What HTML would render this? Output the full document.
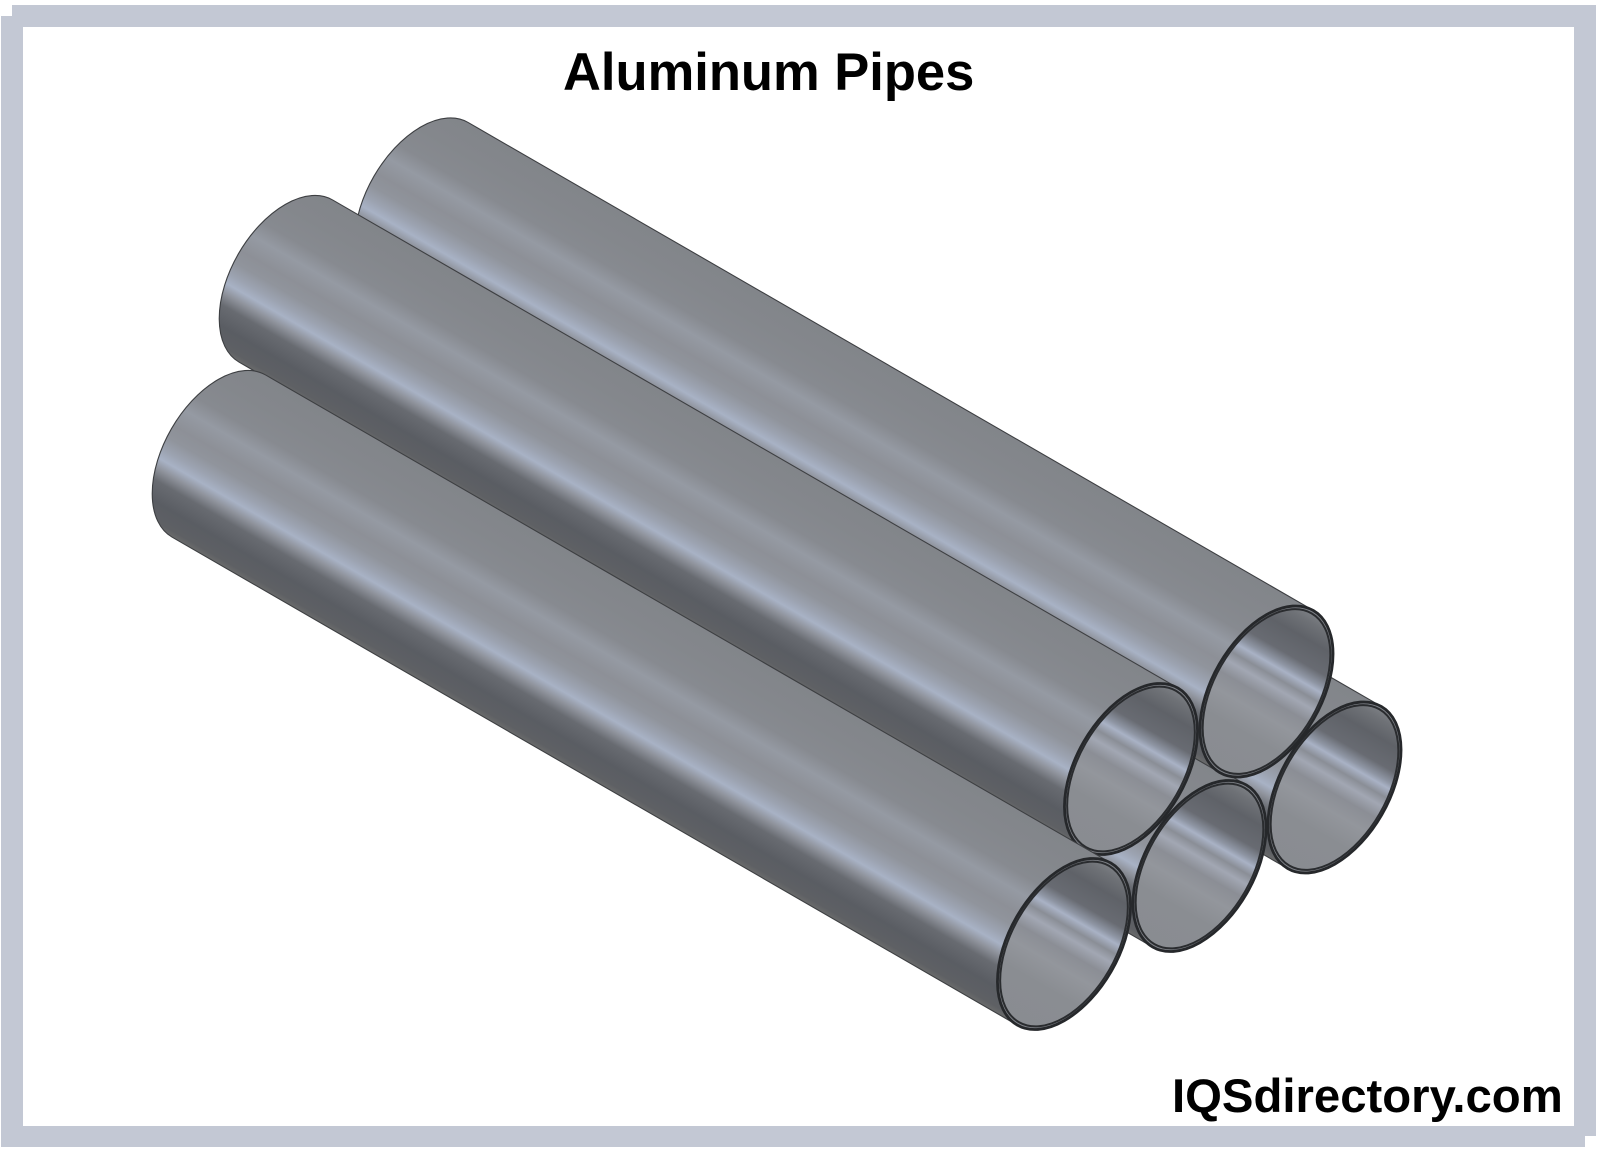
<!DOCTYPE html>
<html>
<head>
<meta charset="utf-8">
<title>Aluminum Pipes</title>
<style>
html,body{margin:0;padding:0;background:#fff;}
svg{display:block;}
text{font-family:"Liberation Sans",sans-serif;font-weight:bold;fill:#000;}
</style>
</head>
<body>
<svg xmlns="http://www.w3.org/2000/svg" width="1600" height="1154" viewBox="0 0 1600 1154">
<defs>
<linearGradient id="body" gradientUnits="userSpaceOnUse" x1="0" y1="-93.6" x2="0" y2="93.6">
<stop offset="0" stop-color="#82858a"/>
<stop offset="0.15" stop-color="#84878c"/>
<stop offset="0.29" stop-color="#878a90"/>
<stop offset="0.38" stop-color="#959aa3"/>
<stop offset="0.48" stop-color="#8d9097"/>
<stop offset="0.55" stop-color="#90949c"/>
<stop offset="0.62" stop-color="#9ca3b1"/>
<stop offset="0.67" stop-color="#a8b2c5"/>
<stop offset="0.72" stop-color="#8f939c"/>
<stop offset="0.78" stop-color="#686b71"/>
<stop offset="0.88" stop-color="#5a5d63"/>
<stop offset="0.97" stop-color="#5e6064"/>
<stop offset="1" stop-color="#6a6b6b"/>
</linearGradient>
<linearGradient id="inner" gradientUnits="userSpaceOnUse" x1="0" y1="-93.6" x2="0" y2="93.6">
<stop offset="0" stop-color="#808388"/>
<stop offset="0.06" stop-color="#6f7277"/>
<stop offset="0.15" stop-color="#5f6268"/>
<stop offset="0.27" stop-color="#686b72"/>
<stop offset="0.33" stop-color="#8e95a3"/>
<stop offset="0.36" stop-color="#a9b2c5"/>
<stop offset="0.41" stop-color="#8a8e96"/>
<stop offset="0.46" stop-color="#a2a7b3"/>
<stop offset="0.53" stop-color="#8b8e95"/>
<stop offset="0.62" stop-color="#93969c"/>
<stop offset="0.75" stop-color="#8a8d92"/>
<stop offset="1" stop-color="#898c91"/>
</linearGradient>
<g id="pipe">
<path d="M-976,-93.6 A54.6,93.6 0 0 0 -976,93.6 L0,93.6 L0,-93.6 Z" fill="url(#body)" stroke="#3d3f42" stroke-width="1.1"/>
<ellipse cx="0" cy="0" rx="54.6" ry="93.6" fill="#7f8288" stroke="#26282b" stroke-width="2.8"/>
<ellipse cx="0" cy="0" rx="52.2" ry="90.2" fill="url(#inner)" stroke="#2a2c2f" stroke-width="2"/>
</g>
</defs>

<!-- frame -->
<rect x="12" y="5" width="1584" height="22" fill="#c3c8d4"/>
<rect x="1574" y="5" width="22" height="1131" fill="#c3c8d4"/>
<rect x="1" y="16" width="22" height="1131" fill="#c3c8d4"/>
<rect x="1" y="1126" width="1584" height="21" fill="#c3c8d4"/>

<!-- pipes, back to front -->
<use href="#pipe" transform="translate(1334.5,787.5) rotate(30)"/>
<use href="#pipe" transform="translate(1199.5,866) rotate(30)"/>
<use href="#pipe" transform="translate(1266.5,691.5) rotate(30)"/>
<use href="#pipe" transform="translate(1131,769) rotate(30)"/>
<use href="#pipe" transform="translate(1064,944) rotate(30)"/>

<text x="563" y="90" font-size="52.5">Aluminum Pipes</text>
<text x="1172" y="1112" font-size="47.3">IQSdirectory.com</text>
</svg>
</body>
</html>
